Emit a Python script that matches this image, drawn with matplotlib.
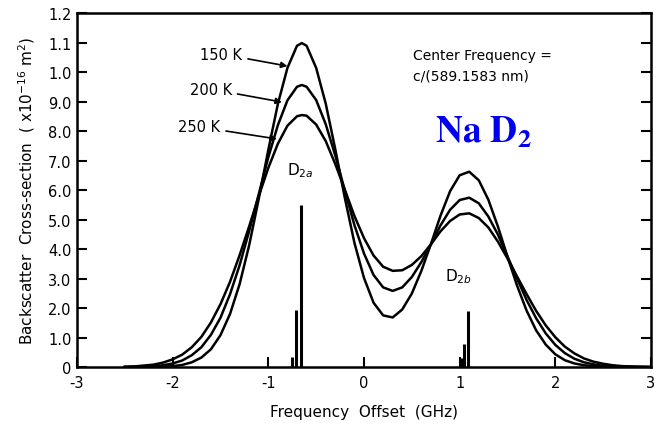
import matplotlib
matplotlib.use("Agg")
from matplotlib import pyplot as plt

# frequency offset (GHz)
freq = [-2.5, -2.4, -2.3, -2.2, -2.1, -2.0, -1.9, -1.8, -1.7, -1.6,
        -1.5, -1.4, -1.3, -1.2, -1.1, -1.0, -0.9, -0.8, -0.7, -0.65,
        -0.6, -0.5, -0.4, -0.3, -0.2, -0.1, 0.0, 0.1, 0.2, 0.3,
        0.4, 0.5, 0.6, 0.7, 0.8, 0.9, 1.0, 1.1, 1.2, 1.3,
        1.4, 1.5, 1.6, 1.7, 1.8, 1.9, 2.0, 2.1, 2.2, 2.3,
        2.4, 2.5, 2.6, 2.7, 2.8, 2.9, 3.0]

# backscatter cross-section
xs_150K = [0.0, 0.0, 0.0, 0.01, 0.01, 0.03, 0.07, 0.16, 0.32, 0.60,
           1.08, 1.80, 2.81, 4.13, 5.70, 7.36, 8.92, 10.14, 10.89, 10.98,
           10.89, 10.14, 8.93, 7.38, 5.73, 4.21, 3.02, 2.18, 1.75, 1.68,
           1.95, 2.49, 3.26, 4.17, 5.13, 5.96, 6.50, 6.62, 6.33, 5.67,
           4.76, 3.74, 2.76, 1.91, 1.24, 0.76, 0.43, 0.23, 0.12, 0.06,
           0.03, 0.01, 0.0, 0.0, 0.0, 0.0, 0.0]
xs_200K = [0.0, 0.01, 0.01, 0.03, 0.06, 0.12, 0.22, 0.40, 0.67, 1.09,
           1.67, 2.47, 3.45, 4.61, 5.86, 7.11, 8.20, 9.04, 9.50, 9.56,
           9.50, 9.05, 8.23, 7.17, 5.98, 4.81, 3.85, 3.12, 2.70, 2.58,
           2.70, 3.05, 3.56, 4.16, 4.80, 5.33, 5.66, 5.74, 5.55, 5.10,
           4.49, 3.75, 3.00, 2.27, 1.65, 1.14, 0.75, 0.47, 0.28, 0.16,
           0.09, 0.04, 0.02, 0.01, 0.0, 0.0, 0.0]
xs_250K = [0.01, 0.02, 0.05, 0.08, 0.15, 0.26, 0.42, 0.67, 1.02, 1.51,
           2.13, 2.89, 3.79, 4.77, 5.79, 6.75, 7.57, 8.18, 8.50, 8.54,
           8.52, 8.22, 7.66, 6.88, 6.01, 5.12, 4.37, 3.78, 3.40, 3.26,
           3.28, 3.46, 3.76, 4.16, 4.60, 4.95, 5.17, 5.21, 5.05, 4.73,
           4.25, 3.68, 3.07, 2.47, 1.90, 1.41, 1.01, 0.69, 0.46, 0.29,
           0.18, 0.11, 0.06, 0.03, 0.02, 0.01, 0.0]

# hyperfine lines (stick spectrum)
line_freq = [-0.75, -0.707, -0.654, 1.01, 1.043, 1.089]
line_height = [0.33, 1.94, 5.48, 0.30, 0.78, 1.91]

yticks = [0, 1, 2, 3, 4, 5, 6, 7, 8, 9, 10, 11, 12]
ytick_labels = ["0", "1.0", "2.0", "3.0", "4.0", "5.0", "6.0", "7.0",
                "8.0", "9.0", "1.0", "1.1", "1.2"]
xticks = [-3, -2, -1, 0, 1, 2, 3]

plt.rcParams["font.family"] = ["DejaVu Sans"]

fig = plt.figure(figsize=(6.54, 4.39), dpi=100)
ax = fig.add_axes([0.1177, 0.1617, 0.8777, 0.8064])

for ys in (xs_150K, xs_200K, xs_250K):
    ax.plot(freq, ys, color="black", lw=1.8)
ax.vlines(line_freq, 0, line_height, color="black", lw=2.2)

ax.set_xlim(-3, 3)
ax.set_ylim(0, 12)
ax.set_xticks(xticks)
ax.set_xticklabels([str(t) for t in xticks])
ax.set_yticks(yticks)
ax.set_yticklabels(ytick_labels)
ax.tick_params(direction="in", length=7, width=1.5, right=True, top=False,
               labelsize=10.5, pad=6)
ax.tick_params(axis="y", pad=4)
for sp in ax.spines.values():
    sp.set_linewidth(1.8)

ax.set_xlabel("Frequency  Offset  (GHz)", fontsize=11, labelpad=10)
ax.set_ylabel(r"Backscatter  Cross-section  ( x10$^{-16}$ m$^2$)",
              fontsize=11, labelpad=8)

arrow = dict(arrowstyle="-|>", color="black", lw=1.2, mutation_scale=9,
             shrinkA=2, shrinkB=0)
ax.annotate("150 K", xy=(-0.80, 10.2), xytext=(-1.27, 10.61), ha="right",
            va="center", fontsize=10.5, arrowprops=arrow)
ax.annotate("200 K", xy=(-0.857, 8.98), xytext=(-1.38, 9.42), ha="right",
            va="center", fontsize=10.5, arrowprops=arrow)
ax.annotate("250 K", xy=(-0.91, 7.73), xytext=(-1.50, 8.14), ha="right",
            va="center", fontsize=10.5, arrowprops=arrow)

ax.text(-0.80, 6.54, r"D$_{2a}$", fontsize=11, ha="left", va="baseline")
ax.text(0.85, 2.95, r"D$_{2b}$", fontsize=11, ha="left", va="baseline")

ax.text(0.51, 10.44, "Center Frequency =", fontsize=10, ha="left",
        va="baseline")
ax.text(0.51, 9.76, "c/(589.1583 nm)", fontsize=10, ha="left",
        va="baseline")

ax.text(0.74, 7.63, r"$\mathbf{Na\ D_2}$", color="#0000EE", fontsize=27,
        ha="left", va="baseline", math_fontfamily="stix")

fig.savefig("out.png", dpi=100)
